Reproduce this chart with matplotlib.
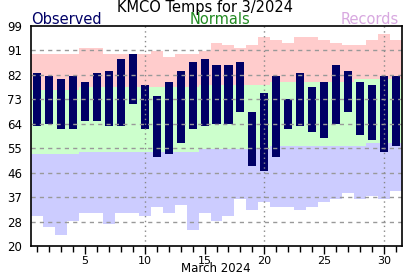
import numpy as np
import matplotlib
matplotlib.use("Agg")
import matplotlib.pyplot as plt

# KMCO daily temps, March 2024
days = list(range(1, 32))

obs_high = [82, 81, 80, 81, 79, 82, 83, 87, 89, 78, 74, 79, 83, 86, 87, 85,
            85, 86, 68, 75, 81, 73, 82, 77, 79, 85, 83, 79, 78, 81, 81]
obs_low = [63, 64, 62, 62, 65, 65, 63, 63, 71, 62, 52, 53, 57, 62, 63, 64,
           64, 68, 49, 47, 52, 62, 63, 61, 59, 64, 68, 60, 58, 54, 56]

norm_high = [76, 76, 76, 76, 77, 77, 77, 77, 77, 77, 77, 77, 77, 77, 78, 78,
             78, 78, 78, 78, 79, 79, 79, 79, 79, 79, 79, 80, 80, 80, 80]
norm_low = [53, 53, 53, 53, 54, 54, 54, 54, 54, 54, 54, 54, 54, 54, 55, 55,
            55, 55, 55, 55, 56, 56, 56, 56, 56, 56, 56, 56, 57, 57, 57]

rec_high = [89, 89, 89, 89, 91, 91, 89, 89, 89, 89, 90, 88, 89, 89, 90, 93,
            92, 91, 92, 95, 94, 93, 95, 95, 94, 93, 92, 92, 94, 96, 94]
rec_low = [31, 27, 24, 29, 32, 32, 28, 32, 32, 31, 34, 32, 35, 26, 32, 29,
           31, 37, 33, 36, 34, 34, 33, 34, 36, 37, 39, 37, 38, 37, 40]

ytick_labels = ['20', '28', '37', '46', '55', '64', '73', '82', '91', '99']
xtick_days = [5, 10, 15, 20, 25, 30]

d = np.array(days)
oh, ol = np.array(obs_high), np.array(obs_low)
nh, nl = np.array(norm_high), np.array(norm_low)
rh, rl = np.array(rec_high), np.array(rec_low)

fig = plt.figure(figsize=(4.12, 2.76), dpi=100)
ax = fig.add_axes([0.0745, 0.107, 0.902, 0.799])

# background bands: record high / normal / record low
ax.bar(d, rh - nh, bottom=nh, width=1.0, color='#ffcccc', linewidth=0)
ax.bar(d, nh - nl, bottom=nl, width=1.0, color='#ccffcc', linewidth=0)
ax.bar(d, nl - rl, bottom=rl, width=1.0, color='#ccccff', linewidth=0)

# observed range
ax.bar(d, oh - ol, bottom=ol, width=0.67, color='#000066', linewidth=0)

yt = np.linspace(20, 99, 10)
for y in yt[1:-1]:
    ax.axhline(y, color='#999999', linestyle=(0, (3, 3)), linewidth=1.0)
for x in [10, 20, 30]:
    ax.axvline(x, color='#888888', linestyle=(0, (1, 2.5)), linewidth=1.0)

ax.set_xlim(0.5, 31.5)
ax.set_ylim(20, 99)
ax.set_yticks(yt)
ax.set_yticklabels(ytick_labels, fontsize=8.5)
ax.tick_params(axis='y', length=0, pad=6)
ax.set_xticks(xtick_days)
ax.set_xticklabels([str(x) for x in xtick_days], fontsize=8)
ax.set_xticks(days, minor=True)
ax.tick_params(axis='x', which='major', length=6, width=1, pad=1)
ax.tick_params(axis='x', which='minor', length=4, width=1)

for s in ax.spines.values():
    s.set_linewidth(1.2)

# header texts
fig.text(0.498, 1 - 12.3 / 276, 'KMCO Temps for 3/2024', ha='center', va='baseline', fontsize=10.5)
fig.text(0.0745, 1 - 24 / 276, 'Observed', ha='left', va='baseline', fontsize=10.5, color='#000066')
fig.text(0.534, 1 - 24 / 276, 'Normals', ha='center', va='baseline', fontsize=10.5, color='#228b22')
fig.text(0.967, 1 - 24 / 276, 'Records', ha='right', va='baseline', fontsize=10.5, color='#d8a8e0')
fig.text(0.525, 1 - 271.5 / 276, 'March 2024', ha='center', va='baseline', fontsize=8.5)

fig.savefig('out.png', dpi=100)
